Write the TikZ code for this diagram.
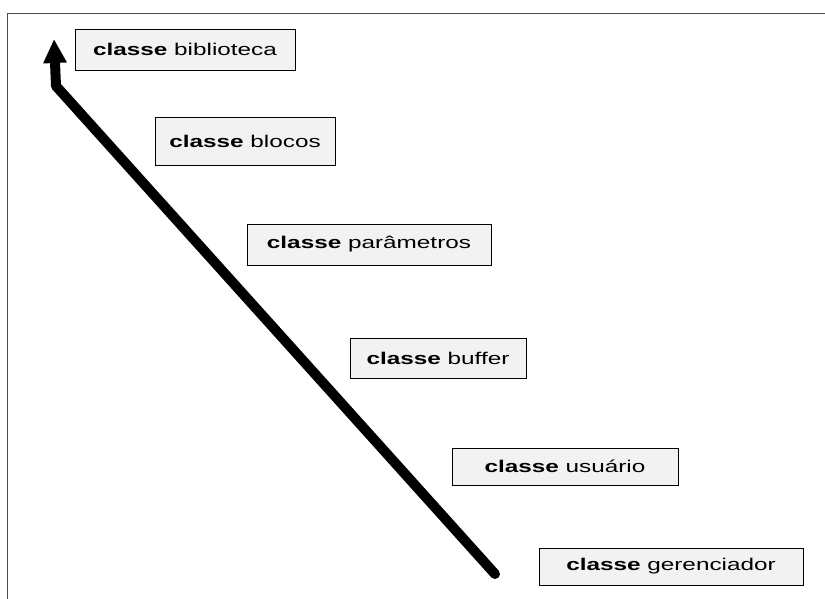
\documentclass[tikz,border=0pt]{standalone}
\usepackage{fontspec}
\setmainfont{Liberation Sans}
\usetikzlibrary{arrows.meta,shadows}
\newcommand{\cls}[1]{\scalebox{1.43}[1]{\textbf{classe} #1}}
\tikzset{
  cbox/.style={draw=black, line width=0.9pt, fill=black!5, inner sep=0pt,
    font=\fontsize{17}{20}\selectfont,
    drop shadow={shadow xshift=1.3pt, shadow yshift=-1.3pt, opacity=1, fill=black}},
  flow/.style={line width=10pt, line cap=round, line join=round,
    -{Triangle[width=22pt,length=24pt]}},
  frame/.style={draw=black!70, line width=0.8pt}
}
\begin{document}
\begin{tikzpicture}[x=1pt,y=1pt]
\useasboundingbox (0,0) rectangle (825,599);
% outer frame (top and left edges)
\draw[frame] (7,0) -- (7,586) -- (825,586);

% class boxes
\node[cbox, minimum width=220, minimum height=41] (bib) at (185,549.5) {\cls{biblioteca}};
\node[cbox, minimum width=180, minimum height=48] (blo) at (245,458) {\cls{blocos}};
\node[cbox, minimum width=244, minimum height=41] (par) at (369,354.5) {\cls{parâmetros}};
\node[cbox, minimum width=176, minimum height=40] (buf) at (438,241) {\cls{buffer}};
\node[cbox, minimum width=226, minimum height=37] (usu) at (565,132.5) {\cls{usuário}};
\node[cbox, minimum width=264, minimum height=37] (ger) at (671,32.5) {\cls{gerenciador}};

% the flow arrow
\coordinate (tail) at (495,25);
\coordinate (bend) at (56,513);
\coordinate (tip) at (54,560);
\draw[flow] (tail) -- (bend) -- (tip);
\end{tikzpicture}
\end{document}
